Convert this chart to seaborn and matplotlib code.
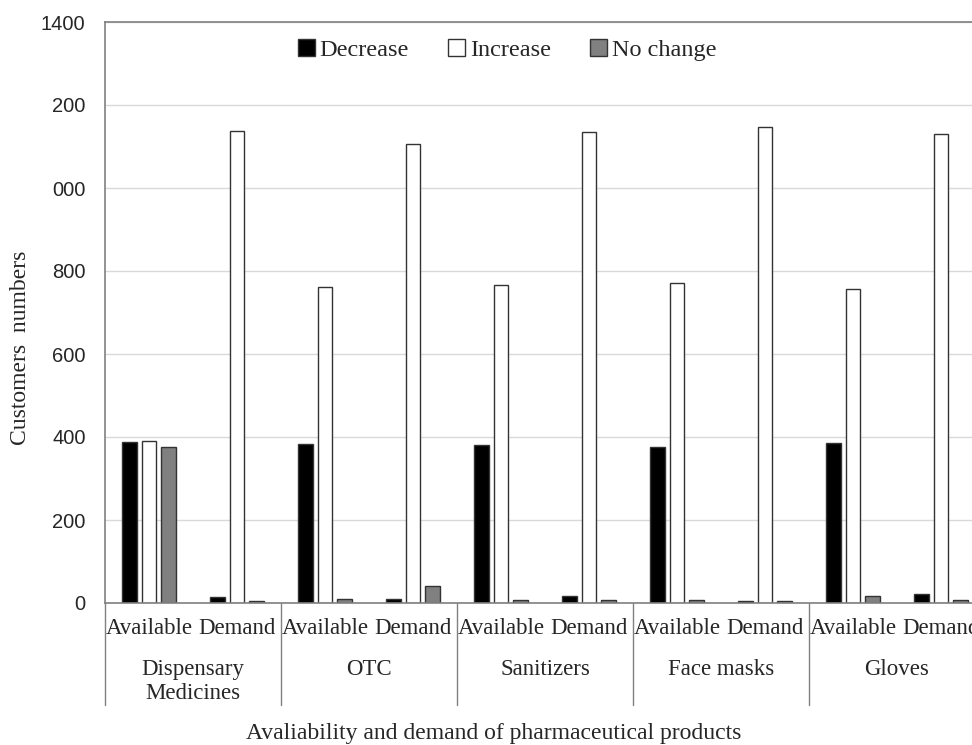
import numpy as np
import pandas as pd
import matplotlib
matplotlib.use("Agg")
import matplotlib.pyplot as plt
import matplotlib.transforms as mtransforms
from matplotlib.patches import Patch
import seaborn as sns

# Data
products = ["Dispensary\nMedicines", "OTC", "Sanitizers", "Face masks", "Gloves"]
aspects = ["Available", "Demand"]
changes = ["Decrease", "Increase", "No change"]

decrease = [388, 14, 382, 9, 380, 16, 377, 6, 385, 21]
increase = [390, 1137, 762, 1106, 766, 1135, 771, 1147, 757, 1130]
no_change = [377, 6, 10, 41, 7, 7, 7, 4, 16, 7]

y_ticks = [0, 200, 400, 600, 800, 1000, 1200, 1400]
y_tick_labels = ["0", "200", "400", "600", "800", "000", "200", "1400"]

# long-form table: one slot per product/aspect pair
slots = [f"{p}|{a}" for p in products for a in aspects]
rows = []
for name, vals in zip(changes, [decrease, increase, no_change]):
    for s, v in zip(slots, vals):
        rows.append({"slot": s, "change": name, "count": v})
df = pd.DataFrame(rows)

sns.set_style("white")
plt.rcParams["font.family"] = ["Liberation Serif", "DejaVu Serif"]

W, H = 972, 745
fig = plt.figure(figsize=(W / 100, H / 100), dpi=100)
ax = fig.add_axes([105 / W, 1 - 603 / H, 880 / W, 581 / H])

palette = {"Decrease": "#000000", "Increase": "#ffffff", "No change": "#808080"}
sns.barplot(data=df, x="slot", y="count", hue="change", order=slots,
            hue_order=changes, palette=palette, width=0.68, gap=0.25,
            edgecolor="#333333", linewidth=1.0, legend=False, ax=ax)

ax.set_ylim(0, 1400)
ax.set_xlim(-0.5, len(slots) - 0.5)
ax.set_yticks(y_ticks)
ax.set_yticklabels(y_tick_labels, fontsize=14.5, family=["Liberation Sans", "DejaVu Sans"])
ax.yaxis.grid(True, color="#d9d9d9", linewidth=1)
ax.set_axisbelow(True)
ax.tick_params(axis="y", length=0, pad=14)
ax.tick_params(axis="x", length=0, pad=0)
ax.set_xticks(range(len(slots)))
ax.set_xticklabels([])
ax.set_xlabel("")
ax.set_ylabel("")

for side in ["left", "top", "bottom"]:
    ax.spines[side].set_color("#808080")
    ax.spines[side].set_linewidth(1.2)
ax.spines["right"].set_visible(False)

# two-level category axis below the plot
trans = mtransforms.blended_transform_factory(ax.transData, fig.transFigure)
for i, a in enumerate([a for p in products for a in aspects]):
    ax.text(i, 1 - 629 / H, a, transform=trans, fontsize=16.5,
            ha="center", va="center", clip_on=False)
for i in range(len(products) + 1):
    x = -0.5 + 2 * i
    ax.plot([x, x], [1 - 603 / H, 1 - 705 / H], transform=trans,
            color="#808080", linewidth=1.0, clip_on=False)
for i, p in enumerate(products):
    ax.text(0.5 + 2 * i, 1 - 659 / H, p, transform=trans, fontsize=16.5,
            ha="center", va="top", linespacing=1.2, clip_on=False)

fig.text(494 / W, 1 - 733 / H, "Avaliability and demand of pharmaceutical products",
         fontsize=17, ha="center", va="center")
fig.text(21 / W, 1 - 348 / H, "Customers  numbers", fontsize=17,
         rotation=90, ha="center", va="center")

handles = [Patch(facecolor=palette[c], edgecolor="#333333", label=c) for c in changes]
fig.legend(handles=handles, loc="center", bbox_to_anchor=(507 / W, 1 - 50 / H),
           ncol=3, frameon=False, fontsize=17.5, handlelength=0.7, handleheight=0.7,
           handletextpad=0.2, columnspacing=1.6)

fig.savefig("out.png", dpi=100)
